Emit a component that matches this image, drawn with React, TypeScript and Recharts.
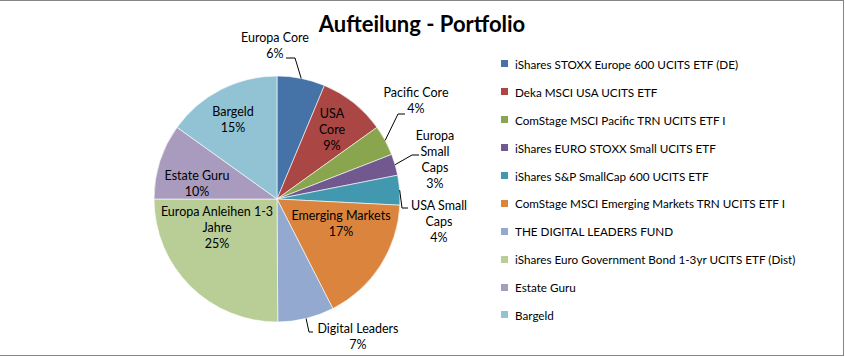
import { PieChart, Pie, Cell, Legend } from "recharts";

const fundNames = [
  "iShares STOXX Europe 600 UCITS ETF (DE)",
  "Deka MSCI USA UCITS ETF",
  "ComStage MSCI Pacific TRN UCITS ETF I",
  "iShares EURO STOXX Small UCITS ETF",
  "iShares S&P SmallCap 600 UCITS ETF",
  "ComStage MSCI Emerging Markets TRN UCITS ETF I",
  "THE DIGITAL LEADERS FUND",
  "iShares Euro Government Bond 1-3yr UCITS ETF (Dist)",
  "Estate Guru",
  "Bargeld",
];

const sliceLabels = [
  ["Europa Core"],
  ["USA", "Core"],
  ["Pacific Core"],
  ["Europa", "Small", "Caps"],
  ["USA Small", "Caps"],
  ["Emerging Markets"],
  ["Digital Leaders"],
  ["Europa Anleihen 1-3", "Jahre"],
  ["Estate Guru"],
  ["Bargeld"],
];

const shares = [6.3, 8.8, 4.0, 2.8, 3.9, 16.7, 7.4, 25.1, 9.9, 15.1];

const COLORS = [
  "#4572A7",
  "#AA4643",
  "#89A54E",
  "#71588F",
  "#4198AF",
  "#DB843D",
  "#93A9CF",
  "#B9CD96",
  "#A99BBD",
  "#92C3D5",
];

const data = fundNames.map((name, i) => ({ name, value: shares[i] }));

const FONT = "Lato, 'Open Sans', sans-serif";
const CX = 277;
const CY = 199;
const R = 123;

// label text centre relative to the pie centre, and optional leader line (elbow, end)
const labelLayout: { dx: number; dy: number; leader?: number[] }[] = [
  { dx: -2, dy: -154, leader: [18, -141, 9, -141] },
  { dx: 55, dy: -70 },
  { dx: 139, dy: -99, leader: [121, -85, 128, -85] },
  { dx: 158, dy: -40, leader: [135, -44, 142, -44] },
  { dx: 162, dy: 22, leader: [125, 9, 131, 9] },
  { dx: 64, dy: 24 },
  { dx: 81, dy: 137, leader: [32, 133, 36, 133] },
  { dx: -60, dy: 28 },
  { dx: -80, dy: -16 },
  { dx: -44, dy: -80 },
];

const RAD = Math.PI / 180;

function renderLabel(props: any) {
  const { midAngle, percent, index } = props;
  const cx = props.cx ?? CX;
  const cy = props.cy ?? CY;
  const r = props.outerRadius ?? R;
  const layout = labelLayout[index];
  const lines = [...sliceLabels[index], `${Math.round(percent * 100)}%`];
  const lh = 16;
  const x = cx + layout.dx;
  const top = cy + layout.dy - ((lines.length - 1) * lh) / 2;
  let leader = null;
  if (layout.leader) {
    const sx = cx + r * Math.cos(-midAngle * RAD);
    const sy = cy + r * Math.sin(-midAngle * RAD);
    const [ex, ey, tx, ty] = layout.leader;
    leader = (
      <polyline
        points={`${sx},${sy} ${cx + ex},${cy + ey} ${cx + tx},${cy + ty}`}
        fill="none"
        stroke="#000"
        strokeWidth={1}
      />
    );
  }
  return (
    <g key={`lbl-${index}`}>
      {leader}
      <text x={x} y={top} textAnchor="middle" fontFamily={FONT} fontSize={12.5} fill="#000">
        {lines.map((l, i) => (
          <tspan key={i} x={x} y={top + i * lh} dominantBaseline="central">
            {l}
          </tspan>
        ))}
      </text>
    </g>
  );
}

function LegendList() {
  return (
    <div style={{ fontFamily: FONT, fontSize: 11.7, color: "#000" }}>
      {fundNames.map((n, i) => (
        <div key={n} style={{ height: 27.9, display: "flex", alignItems: "center" }}>
          <span style={{ width: 7, height: 7, background: COLORS[i], marginRight: 7, flexShrink: 0 }} />
          <span style={{ whiteSpace: "nowrap" }}>{n}</span>
        </div>
      ))}
    </div>
  );
}

export default function App() {
  return (
    <div style={{ position: "absolute", left: 0, top: 0, width: 845, height: 357, background: "#fff" }}>
      <div
        style={{
          position: "absolute",
          left: 0,
          top: 0,
          width: 844,
          height: 356,
          boxSizing: "border-box",
          borderTop: "1.5px solid #868686",
          borderRight: "1.5px solid #868686",
          borderBottom: "1.5px solid #868686",
        }}
      />
      <span
        style={{
          position: "absolute",
          top: 10,
          left: 422,
          transform: "translateX(-50%)",
          fontFamily: FONT,
          fontWeight: 700,
          fontSize: 22,
          whiteSpace: "nowrap",
          color: "#000",
        }}
      >
        Aufteilung - Portfolio
      </span>
      <PieChart
        width={845}
        height={357}
        margin={{ top: 0, right: 0, bottom: 0, left: 0 }}
        style={{ position: "absolute", left: 0, top: 0 }}
      >
        <Pie
          data={data}
          dataKey="value"
          nameKey="name"
          cx={CX}
          cy={CY}
          outerRadius={R}
          startAngle={90}
          endAngle={-270}
          stroke="#ffffff"
          strokeWidth={0.6}
          label={renderLabel}
          labelLine={false}
          isAnimationActive={false}
        >
          {data.map((_, i) => (
            <Cell key={i} fill={COLORS[i]} />
          ))}
        </Pie>
        <Legend
          content={() => <LegendList />}
          wrapperStyle={{ position: "absolute", left: 501, top: 50, width: 340 }}
        />
      </PieChart>
    </div>
  );
}
